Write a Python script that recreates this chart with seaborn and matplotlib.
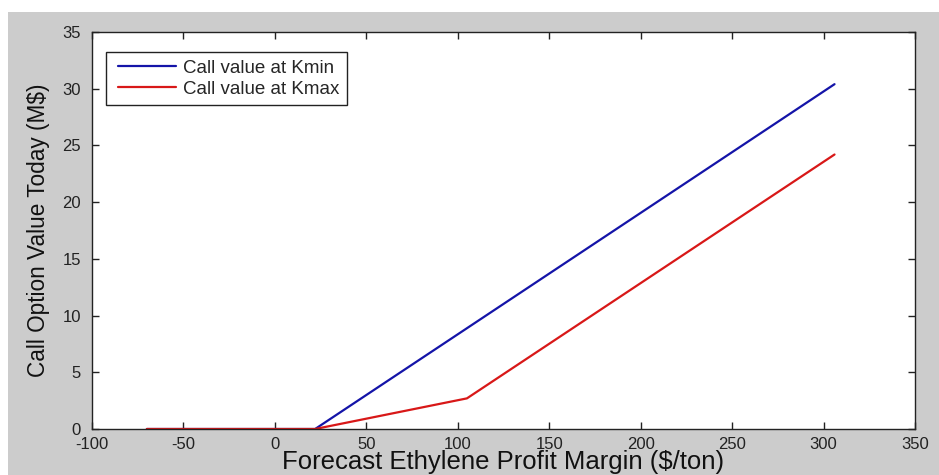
import matplotlib
matplotlib.use("Agg")
import matplotlib.pyplot as plt
import seaborn as sns
import pandas as pd
from matplotlib.patches import Rectangle
from matplotlib.lines import Line2D
from matplotlib.legend_handler import HandlerLine2D

# Piecewise-linear call values (M$) against forecast margin ($/ton)
margin_kmin = [-70, 22, 306]
value_kmin = [0.0, 0.0, 30.4]
margin_kmax = [-70, 22, 105, 306]
value_kmax = [0.0, 0.0, 2.7, 24.2]
series_names = ["Call value at Kmin", "Call value at Kmax"]
x_ticks = [-100, -50, 0, 50, 100, 150, 200, 250, 300, 350]
y_ticks = [0, 5, 10, 15, 20, 25, 30, 35]

df = pd.concat([
    pd.DataFrame({"margin": margin_kmin, "value": value_kmin, "series": series_names[0]}),
    pd.DataFrame({"margin": margin_kmax, "value": value_kmax, "series": series_names[1]}),
], ignore_index=True)

sns.set_style("ticks")
plt.rcParams["font.family"] = ["Liberation Sans", "DejaVu Sans"]
plt.rcParams["axes.unicode_minus"] = False

fig = plt.figure(figsize=(9.39, 4.75), dpi=100, facecolor="white")
# grey window background with thin white border on top/left
fig.patches.append(Rectangle((8 / 939, 0), 1, 1 - 12 / 475, transform=fig.transFigure,
                             facecolor="#cccccc", edgecolor="none", zorder=-10))
ax = fig.add_axes([92 / 939, 1 - 429 / 475, (915 - 92) / 939, (429 - 32) / 475])
ax.set_facecolor("white")

sns.lineplot(data=df, x="margin", y="value", hue="series", sort=False,
             palette={series_names[0]: "#1414a8", series_names[1]: "#d81818"},
             linewidth=1.6, ax=ax, estimator=None)

ax.set_xlim(-100, 350)
ax.set_ylim(0, 35)
ax.set_xticks(x_ticks)
ax.set_yticks(y_ticks)
ax.set_xticklabels([str(t) for t in x_ticks])
ax.set_yticklabels([str(t) for t in y_ticks])
ax.tick_params(direction="in", length=5, width=1, top=True, right=True,
               labelsize=12, colors="#222222")
ax.tick_params(axis="y", pad=8)
ax.tick_params(axis="x", pad=6)
for s in ax.spines.values():
    s.set_visible(True)
    s.set_color("#222222")
    s.set_linewidth(1.0)

ax.set_xlabel("Forecast Ethylene Profit Margin ($/ton)", fontsize=18.5, color="#111111")
ax.xaxis.set_label_coords(0.5, -(469.5 - 429) / 397, transform=ax.transAxes)
ax.xaxis.label.set_va("baseline")
ax.set_ylabel("Call Option Value Today (M$)", fontsize=16.3, color="#111111")
ax.yaxis.set_label_coords(-0.051, 0.5)

leg = ax.legend(loc="upper left", bbox_to_anchor=(0.017, 0.9496), fontsize=13.5,
                frameon=True, fancybox=False, framealpha=1, edgecolor="#222222",
                handlelength=3.33, handletextpad=0.37, borderpad=0.4, labelspacing=0.2,
                borderaxespad=0, title=None,
                handler_map={Line2D: HandlerLine2D(xpad=0.24)})
leg.get_frame().set_linewidth(1.0)

fig.savefig("out.png", dpi=100, facecolor=fig.get_facecolor())
